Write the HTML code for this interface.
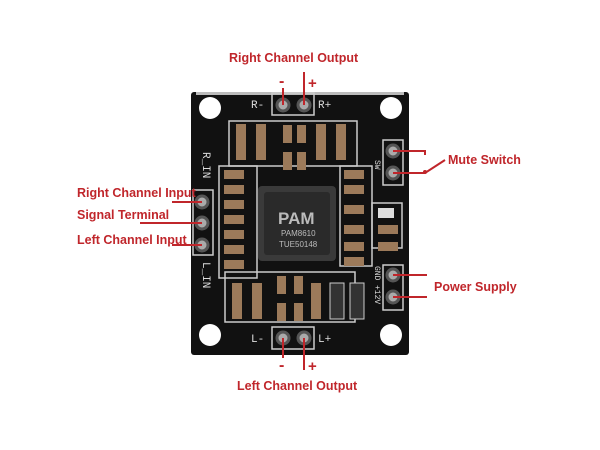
<!DOCTYPE html>
<html><head><style>
html,body{margin:0;padding:0;background:#fff;width:600px;height:450px;overflow:hidden}
text{font-family:"Liberation Sans",sans-serif}
.l{fill:#c0262b;font-weight:bold;font-size:12.5px}
.s{font-family:"Liberation Mono",monospace;fill:#ddd;font-size:11px}
</style></head><body>
<svg width="600" height="450" viewBox="0 0 600 450" xmlns="http://www.w3.org/2000/svg">
<rect x="191" y="92" width="218" height="263" rx="3" fill="#111"/>
<rect x="196" y="92" width="208" height="3" fill="#bbb"/>
<g fill="#fff">
<circle cx="210" cy="108" r="11"/><circle cx="391" cy="108" r="11"/>
<circle cx="210" cy="335" r="11"/><circle cx="391" cy="335" r="11"/>
</g>
<g fill="none" stroke="#ccc" stroke-width="1.5">
<rect x="229" y="121" width="128" height="45"/>
<rect x="219" y="166" width="38" height="112"/>
<rect x="340" y="166" width="32" height="100"/>
<rect x="372" y="203" width="30" height="45"/>
<rect x="225" y="272" width="130" height="50"/>
<rect x="193" y="190" width="20" height="65"/>
<rect x="383" y="140" width="20" height="45"/>
<rect x="383" y="265" width="20" height="45"/>
<rect x="272" y="93" width="42" height="22"/>
<rect x="272" y="327" width="42" height="22"/>
</g>
<g fill="#9c7a5a">
<rect x="236" y="124" width="10" height="36"/><rect x="256" y="124" width="10" height="36"/>
<rect x="283" y="125" width="9" height="18"/><rect x="297" y="125" width="9" height="18"/>
<rect x="283" y="152" width="9" height="18"/><rect x="297" y="152" width="9" height="18"/>
<rect x="316" y="124" width="10" height="36"/><rect x="336" y="124" width="10" height="36"/>
<rect x="224" y="170" width="20" height="9"/><rect x="224" y="185" width="20" height="9"/>
<rect x="224" y="200" width="20" height="9"/><rect x="224" y="215" width="20" height="9"/>
<rect x="224" y="230" width="20" height="9"/><rect x="224" y="245" width="20" height="9"/>
<rect x="224" y="260" width="20" height="9"/>
<rect x="344" y="170" width="20" height="9"/><rect x="344" y="185" width="20" height="9"/>
<rect x="344" y="205" width="20" height="9"/><rect x="344" y="225" width="20" height="9"/>
<rect x="344" y="242" width="20" height="9"/><rect x="344" y="257" width="20" height="9"/>
<rect x="378" y="225" width="20" height="9"/><rect x="378" y="242" width="20" height="9"/>
<rect x="232" y="283" width="10" height="36"/><rect x="252" y="283" width="10" height="36"/>
<rect x="277" y="276" width="9" height="18"/><rect x="294" y="276" width="9" height="18"/>
<rect x="277" y="303" width="9" height="18"/><rect x="294" y="303" width="9" height="18"/>
<rect x="311" y="283" width="10" height="36"/>
</g>
<rect x="330" y="283" width="14" height="36" fill="#333" stroke="#ccc"/>
<rect x="350" y="283" width="14" height="36" fill="#333" stroke="#ccc"/>
<rect x="378" y="208" width="16" height="10" fill="#ddd"/>
<rect x="258" y="186" width="78" height="75" rx="4" fill="#3a3a3a"/>
<rect x="264" y="192" width="66" height="63" rx="3" fill="#2a2a2a"/>
<text x="278" y="224" style="fill:#bbb;font-weight:bold;font-size:17px">PAM</text>
<text x="281" y="236" style="fill:#bbb;font-size:8px">PAM8610</text>
<text x="279" y="247" style="fill:#bbb;font-size:8px">TUE50148</text>
<text x="251" y="108" class="s">R-</text><text x="318" y="108" class="s">R+</text>
<text x="251" y="342" class="s">L-</text><text x="318" y="342" class="s">L+</text>
<g fill="#aaa" stroke="#555" stroke-width="3">
<circle cx="283" cy="105" r="6"/><circle cx="304" cy="105" r="6"/>
<circle cx="283" cy="338" r="6"/><circle cx="304" cy="338" r="6"/>
<circle cx="202" cy="202" r="6"/><circle cx="202" cy="223" r="6"/><circle cx="202" cy="245" r="6"/>
<circle cx="393" cy="151" r="6"/><circle cx="393" cy="173" r="6"/>
<circle cx="393" cy="275" r="6"/><circle cx="393" cy="297" r="6"/>
</g>
<g stroke="#c0262b" stroke-width="2" fill="none">
<line x1="283" y1="88" x2="283" y2="105"/><line x1="304" y1="72" x2="304" y2="105"/>
<line x1="283" y1="338" x2="283" y2="358"/><line x1="304" y1="338" x2="304" y2="370"/>
<line x1="172" y1="202" x2="202" y2="202"/><line x1="140" y1="223" x2="202" y2="223"/><line x1="172" y1="245" x2="202" y2="245"/>
<polyline points="393,151 425,151 425,155"/>
<polyline points="393,173 425,173 445,160"/>
<line x1="393" y1="275" x2="427" y2="275"/><line x1="393" y1="297" x2="427" y2="297"/>
</g>
<circle cx="425" cy="172" r="2" fill="#c0262b"/>
<text x="229" y="62" class="l">Right Channel Output</text>
<text x="279" y="86" class="l" style="font-size:16px">-</text><text x="308" y="88" class="l" style="font-size:15px">+</text>
<text x="279" y="370" class="l" style="font-size:16px">-</text><text x="308" y="371" class="l" style="font-size:15px">+</text>
<text x="237" y="390" class="l">Left Channel Output</text>
<text x="77" y="197" class="l">Right Channel Input</text>
<text x="77" y="219" class="l">Signal Terminal</text>
<text x="77" y="244" class="l">Left Channel Input</text>
<text x="448" y="164" class="l">Mute Switch</text>
<text x="434" y="291" class="l">Power Supply</text>
<text transform="translate(203,152) rotate(90)" class="s">R_IN</text>
<text transform="translate(203,262) rotate(90)" class="s">L_IN</text>
<text transform="translate(375,160) rotate(90)" class="s" style="font-size:8px">SW</text>
<text transform="translate(375,266) rotate(90)" class="s" style="font-size:8px">GND</text>
<text transform="translate(375,285) rotate(90)" class="s" style="font-size:8px">+12V</text>
</svg>
</body></html>
